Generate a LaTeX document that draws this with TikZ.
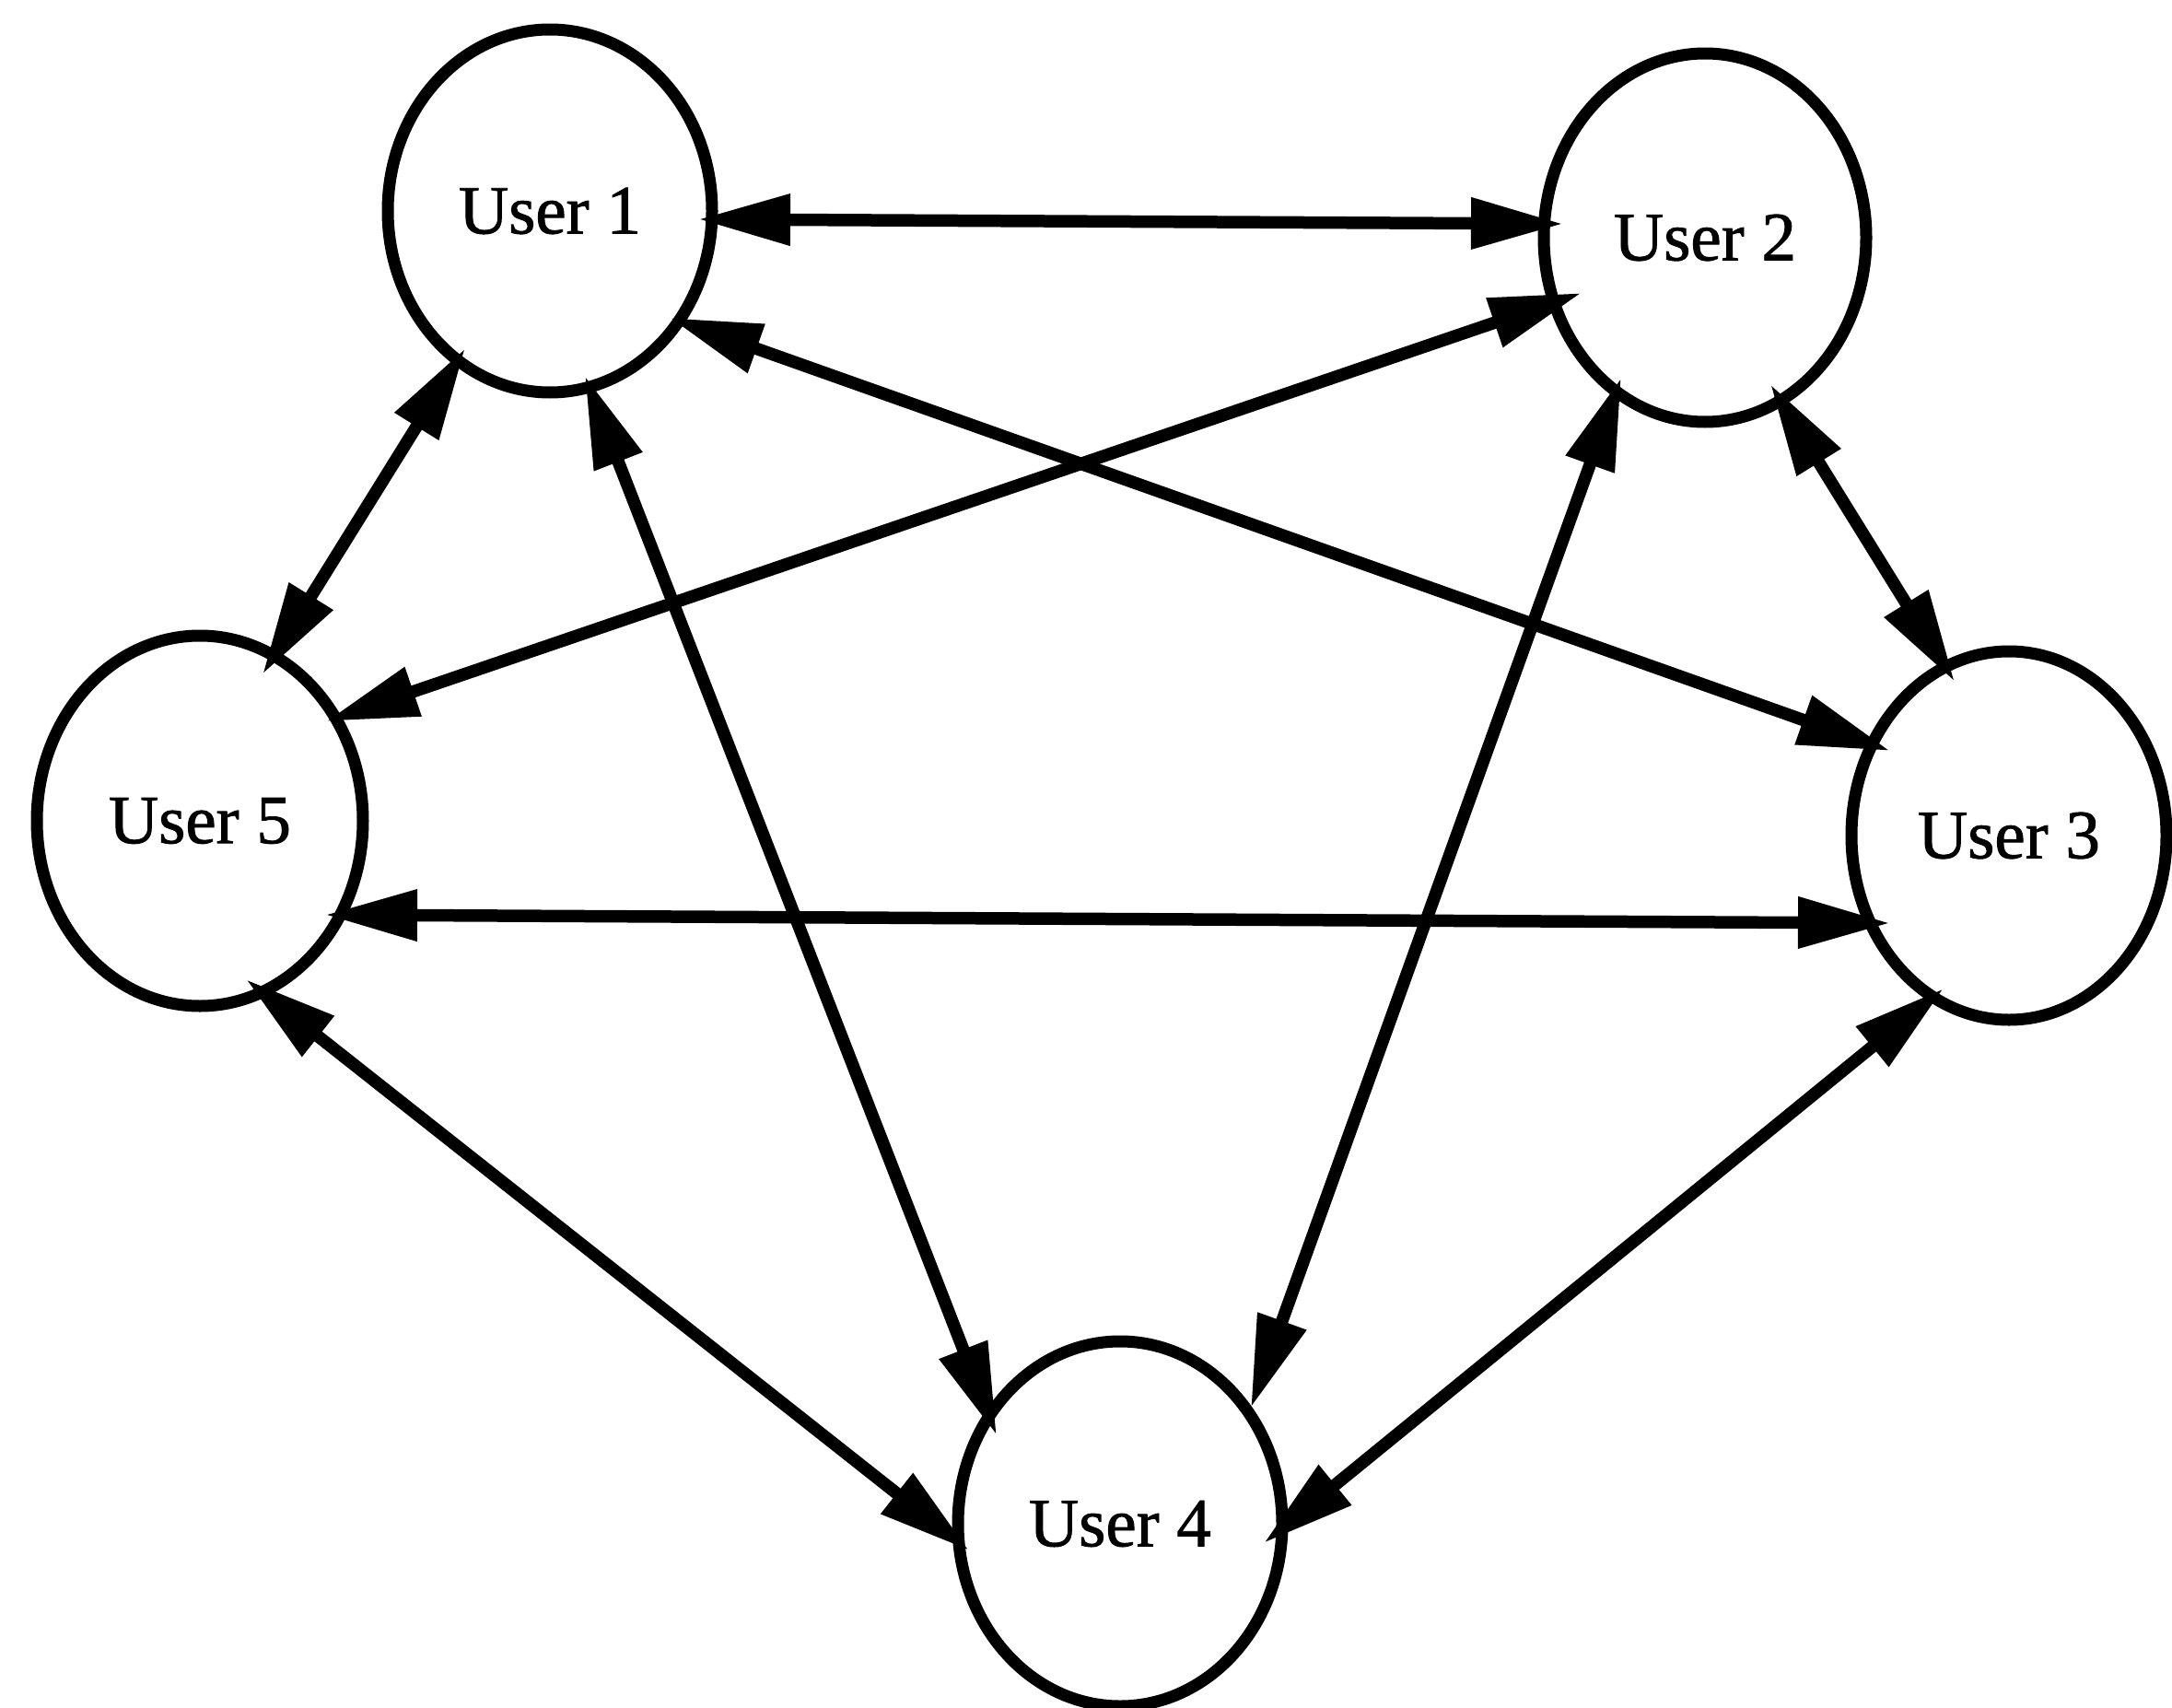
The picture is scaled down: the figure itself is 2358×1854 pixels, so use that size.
\documentclass[tikz,border=0pt]{standalone}
\usepackage{fontspec}
\setmainfont{Liberation Serif}
\usetikzlibrary{shapes.geometric,arrows.meta,calc}

\begin{document}
\begin{tikzpicture}[x=1pt,y=-1pt,
  user/.style={draw, ellipse, line width=13pt, inner sep=0pt, outer sep=0pt,
    font=\fontsize{75}{80}\selectfont\addfontfeature{FakeBold=1.2}},
  link/.style={line width=13.5pt,
    {Triangle[length=100pt,width=53pt]}-{Triangle[length=100pt,width=53pt]}}]
  \useasboundingbox (0,0) rectangle (2358,1854);

  % users
  \node[user, minimum width=352pt, minimum height=394pt] (u1) at (597,229) {User 1};
  \node[user, minimum width=350pt, minimum height=400pt] (u2) at (1851,258) {User 2};
  \node[user, minimum width=342pt, minimum height=400pt] (u3) at (2181,907) {User 3};
  \node[user, minimum width=352pt, minimum height=396pt] (u4) at (1216,1654) {User 4};
  \node[user, minimum width=354pt, minimum height=402pt] (u5) at (217,891) {User 5};

  % two-way links between every pair of users; tips sit just inside the rims
  \draw[link] ($(u1)+(161,9)$)   -- ($(u2)+(-154,-15)$);
  \draw[link] ($(u2)+(-134,60)$) -- ($(u5)+(137,-108)$);
  \draw[link] ($(u1)+(130,116)$) -- ($(u3)+(-129,-92)$);
  \draw[link] ($(u1)+(-92,149)$) -- ($(u5)+(68,-159)$);
  \draw[link] ($(u1)+(38,179)$)  -- ($(u4)+(-134,-96)$);
  \draw[link] ($(u2)+(-91,152)$) -- ($(u4)+(142,-126)$);
  \draw[link] ($(u2)+(71,159)$)  -- ($(u3)+(-59,-167)$);
  \draw[link] ($(u5)+(136,102)$) -- ($(u3)+(-129,95)$);
  \draw[link] ($(u5)+(50,172)$)  -- ($(u4)+(-164,29)$);
  \draw[link] ($(u3)+(-71,166)$) -- ($(u4)+(156,21)$);
\end{tikzpicture}
\end{document}
